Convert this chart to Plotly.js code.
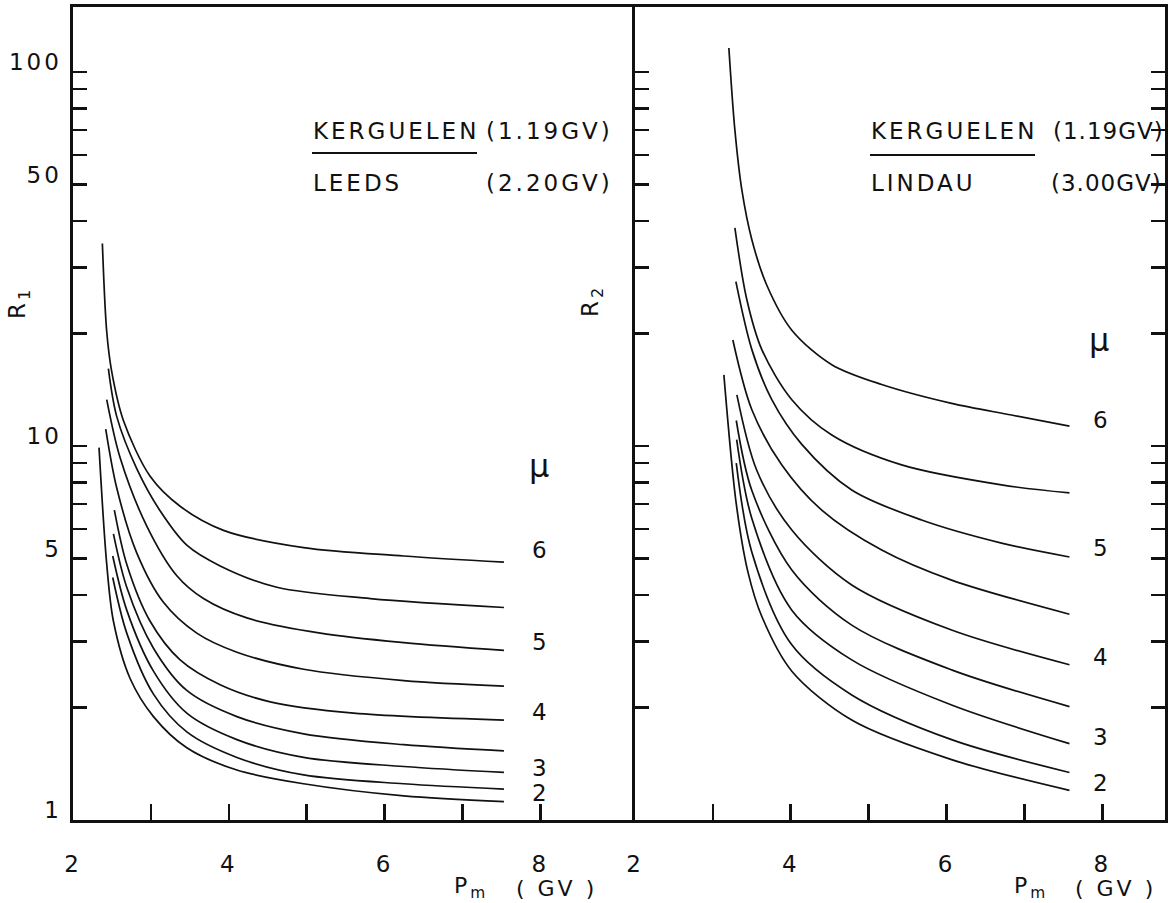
<!DOCTYPE html>
<html>
<head>
<meta charset="utf-8">
<script src="https://cdn.plot.ly/plotly-3.0.1.min.js"></script>
<style>
html,body{margin:0;padding:0;background:#fff;}
svg text{letter-spacing:3px;}
g.annotation[data-index="5"] text, g.annotation[data-index="7"] text{letter-spacing:1px;}
</style>
</head>
<body>
<div id="chart" style="width:1170px;height:903px;"></div>
<script>
// ---------------- data (P_m in GV, R values) ----------------
const muLabels = ['6','5','4','3','2'];

// Left panel: R1 = KERGUELEN / LEEDS, curves for mu = 6, 5.5, 5, 4.5, 4, 3.5, 3, 2.5, 2
const left_mu6_x   = [2.377,2.433,2.497,2.647,2.990,3.375,3.932,4.961,6.246,7.532];
const left_mu6_y   = [34.8,20.2,15.8,11.7,8.3,6.9,5.95,5.35,5.08,4.89];
const left_mu55_x  = [2.454,2.561,2.818,3.118,3.461,3.889,4.617,5.817,7.532];
const left_mu55_y  = [16.1,12.0,8.7,6.71,5.43,4.78,4.19,3.91,3.70];
const left_mu5_x   = [2.433,2.604,2.947,3.333,3.675,4.232,5.175,6.246,7.532];
const left_mu5_y   = [13.3,9.31,6.11,4.50,3.91,3.47,3.16,2.98,2.84];
const left_mu45_x  = [2.420,2.561,2.818,3.161,3.589,4.104,4.961,6.246,7.532];
const left_mu45_y  = [11.1,7.73,5.18,3.82,3.16,2.81,2.53,2.36,2.28];
const left_mu4_x   = [2.531,2.690,2.990,3.375,3.889,4.532,5.603,7.532];
const left_mu4_y   = [6.74,4.83,3.40,2.68,2.30,2.07,1.93,1.85];
const left_mu35_x  = [2.519,2.690,3.033,3.461,4.104,4.961,6.246,7.532];
const left_mu35_y  = [5.82,4.19,2.88,2.22,1.89,1.70,1.59,1.53];
const left_mu3_x   = [2.510,2.690,3.033,3.461,4.104,4.961,6.246,7.532];
const left_mu3_y   = [5.08,3.64,2.50,1.93,1.64,1.47,1.39,1.34];
const left_mu25_x  = [2.510,2.690,3.033,3.461,4.104,4.961,6.246,7.532];
const left_mu25_y  = [4.45,3.16,2.17,1.72,1.47,1.32,1.25,1.21];
const left_mu2_x   = [2.334,2.433,2.519,2.733,3.033,3.461,4.104,4.961,6.246,7.532];
const left_mu2_y   = [9.9,4.83,3.40,2.39,1.89,1.56,1.36,1.25,1.16,1.12];

// Right panel: R2 = KERGUELEN / LINDAU
const right_mu6_x  = [3.205,3.282,3.372,3.500,3.692,4.013,4.526,5.167,6.064,6.833,7.577];
const right_mu6_y  = [115.9,70.0,48.3,35.6,26.9,20.4,16.5,14.6,13.0,12.1,11.3];
const right_mu55_x = [3.282,3.436,3.628,4.013,4.526,5.423,6.705,7.577];
const right_mu55_y = [38.3,24.6,18.1,13.3,10.7,8.9,7.87,7.49];
const right_mu5_x  = [3.295,3.500,3.756,4.141,4.782,5.679,6.705,7.577];
const right_mu5_y  = [27.5,18.1,13.3,10.1,7.63,6.34,5.50,5.05];
const right_mu45_x = [3.256,3.500,3.885,4.397,5.167,6.064,7.577];
const right_mu45_y = [19.2,12.5,8.9,6.74,5.27,4.38,3.55];
const right_mu4_x  = [3.308,3.564,4.013,4.782,6.064,7.577];
const right_mu4_y  = [13.7,8.6,5.96,4.25,3.22,2.60];
const right_mu35_x = [3.300,3.500,4.013,4.782,6.064,7.577];
const right_mu35_y = [11.7,7.6,4.66,3.32,2.52,2.01];
const right_mu3_x  = [3.305,3.500,4.013,4.782,6.064,7.577];
const right_mu3_y  = [10.4,6.4,3.64,2.68,2.03,1.60];
const right_mu25_x = [3.300,3.500,4.013,4.782,6.064,7.577];
const right_mu25_y = [9.0,5.2,2.94,2.16,1.64,1.34];
const right_mu2_x  = [3.141,3.300,3.450,3.628,4.013,4.782,6.064,7.577];
const right_mu2_y  = [15.5,7.0,4.6,3.5,2.5,1.85,1.45,1.20];

// ticks
const xTickVals = [2,3,4,5,6,7,8];
const xTickText = ['2','','4','','6','','8'];
const yTickVals = [1,2,3,4,5,6,7,8,9,10,20,30,40,50,60,70,80,90,100];
const yTickText = ['1','','','','5','','','','','10','','','','50','','','','','100'];
const yLongTicks = [10,100];

// ---------------- layout geometry ----------------
const W = 1170, H = 903;
const px = v => v / W;
const py = v => 1 - v / H;
const X_L = 73, X_M = 635, X_R = 1165, Y_T = 7, Y_B = 820;
const PX_PER_GV = 77.9, PX_PER_DEC = 374;
const yRange = [0, (Y_B - Y_T) / PX_PER_DEC];
const INK = '#111';
const FONT = 'DejaVu Sans';

const leftSets = [
  [left_mu6_x,left_mu6_y],[left_mu55_x,left_mu55_y],[left_mu5_x,left_mu5_y],
  [left_mu45_x,left_mu45_y],[left_mu4_x,left_mu4_y],[left_mu35_x,left_mu35_y],
  [left_mu3_x,left_mu3_y],[left_mu25_x,left_mu25_y],[left_mu2_x,left_mu2_y]
];
const rightSets = [
  [right_mu6_x,right_mu6_y],[right_mu55_x,right_mu55_y],[right_mu5_x,right_mu5_y],
  [right_mu45_x,right_mu45_y],[right_mu4_x,right_mu4_y],[right_mu35_x,right_mu35_y],
  [right_mu3_x,right_mu3_y],[right_mu25_x,right_mu25_y],[right_mu2_x,right_mu2_y]
];

const traces = [];
leftSets.forEach(([x,y]) => traces.push({x, y, xaxis:'x', yaxis:'y', mode:'lines',
  line:{color:INK, width:1.7, shape:'spline', smoothing:0.9}, hoverinfo:'skip'}));
rightSets.forEach(([x,y]) => traces.push({x, y, xaxis:'x2', yaxis:'y2', mode:'lines',
  line:{color:INK, width:1.7, shape:'spline', smoothing:0.9}, hoverinfo:'skip'}));

const frame = {showline:true, linecolor:INK, linewidth:2.6, showgrid:false, zeroline:false,
  ticks:'inside', tickcolor:INK, tickwidth:2.6};
const tickFont = {family:FONT, size:23, color:INK};

const layout = {
  width:W, height:H, margin:{l:0,r:0,t:0,b:0},
  paper_bgcolor:'#fff', plot_bgcolor:'rgba(0,0,0,0)', showlegend:false,
  font:{family:FONT, size:23, color:INK},
  xaxis: Object.assign({}, frame, {domain:[px(X_L), px(X_M)], range:[2, 2 + (X_M - X_L)/PX_PER_GV],
    anchor:'y', mirror:true, tickmode:'array', tickvals:xTickVals, ticktext:xTickText,
    ticklen:16, tickfont:tickFont, ticklabelstandoff:22}),
  yaxis: Object.assign({}, frame, {type:'log', domain:[py(Y_B), py(Y_T)], range:yRange,
    anchor:'x', mirror:false, tickmode:'array', tickvals:yTickVals, ticktext:yTickText,
    ticklen:14, tickfont:tickFont, ticklabelshift:-10, ticklabelstandoff:4}),
  yaxis3: {type:'log', overlaying:'y', anchor:'x', side:'left', range:yRange, showline:false,
    showgrid:false, zeroline:false, ticks:'inside', tickmode:'array', tickvals:yLongTicks,
    ticklen:24, tickwidth:2.6, tickcolor:INK, showticklabels:false},
  xaxis2: Object.assign({}, frame, {domain:[px(X_M), px(X_R)], range:[2, 2 + (X_R - X_M)/PX_PER_GV],
    anchor:'y2', mirror:true, tickmode:'array', tickvals:xTickVals, ticktext:xTickText,
    ticklen:16, tickfont:tickFont, ticklabelstandoff:22}),
  yaxis2: Object.assign({}, frame, {type:'log', domain:[py(Y_B), py(Y_T)], range:yRange,
    anchor:'x2', mirror:'ticks', tickmode:'array', tickvals:yTickVals,
    ticklen:14, showticklabels:false}),
  yaxis4: {type:'log', overlaying:'y2', anchor:'x2', side:'left', mirror:'ticks', range:yRange, showline:false,
    showgrid:false, zeroline:false, ticks:'inside', tickmode:'array', tickvals:yLongTicks,
    ticklen:26, tickwidth:2.6, tickcolor:INK, showticklabels:false},
  shapes: [
    {type:'line', xref:'paper', yref:'paper', x0:px(312), x1:px(477), y0:py(153), y1:py(153), line:{color:INK, width:2}},
    {type:'line', xref:'paper', yref:'paper', x0:px(870), x1:px(1035), y0:py(155), y1:py(155), line:{color:INK, width:2}}
  ],
  annotations: []
};

const A = layout.annotations;
function txt(text, x, y, opts) {
  A.push(Object.assign({text, x, y, xref:'paper', yref:'paper', showarrow:false,
    xanchor:'left', yanchor:'middle', font:{family:FONT, size:23, color:INK}}, opts || {}));
}
// station ratio labels (indices 0..7)
txt('KERGUELEN', px(311), py(131));
txt('(1.19GV)', px(484), py(131));
txt('LEEDS', px(311), py(183));
txt('(2.20GV)', px(484), py(183));
txt('KERGUELEN', px(869), py(131));
txt('(1.19GV)', px(1043), py(131));
txt('LINDAU', px(869), py(183));
txt('(3.00GV)', px(1041), py(183));
// axis titles
txt('R<sub>1</sub>', px(19), py(303), {xanchor:'center', textangle:-90});
txt('R<sub>2</sub>', px(592), py(301), {xanchor:'center', textangle:-90});
const smallFont = {family:FONT, size:22, color:INK};
txt('P<sub>m</sub>', px(X_L + 6*PX_PER_GV - 50), py(887), {xanchor:'right', font:smallFont});
txt('( GV )', px(X_L + 6*PX_PER_GV + 16), py(888), {xanchor:'center', font:smallFont});
txt('P<sub>m</sub>', px(X_M + 6*PX_PER_GV - 52), py(887), {xanchor:'right', font:smallFont});
txt('( GV )', px(X_M + 6*PX_PER_GV + 13), py(888), {xanchor:'center', font:smallFont});
// mu symbol and curve labels
txt('\u03bc', px(540), py(466), {xanchor:'center', font:{family:FONT, size:32, color:INK}});
txt('\u03bc', px(1100), py(340), {xanchor:'center', font:{family:FONT, size:32, color:INK}});
const leftLabelY = [550, 642, 712, 768, 793];
const rightLabelY = [420, 548, 657, 737, 783];
muLabels.forEach((t,i) => {
  txt(t, px(541), py(leftLabelY[i]), {xanchor:'center'});
  txt(t, px(1102), py(rightLabelY[i]), {xanchor:'center'});
});

Plotly.newPlot('chart', traces, layout, {staticPlot:true});
</script>
</body>
</html>
